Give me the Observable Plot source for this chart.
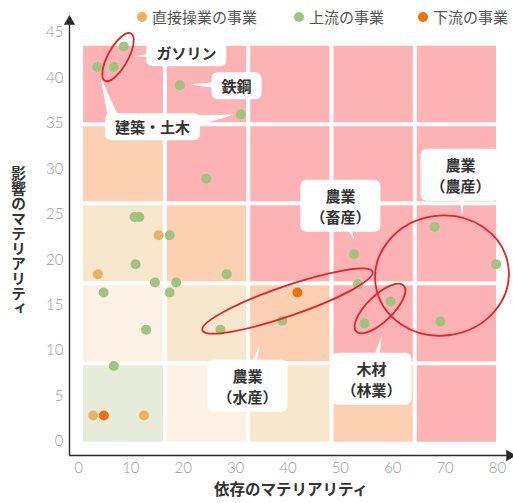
<!DOCTYPE html>
<html><head><meta charset="utf-8">
<script src="https://cdn.jsdelivr.net/npm/d3@7"></script>
<script src="https://cdn.jsdelivr.net/npm/@observablehq/plot@0.6"></script>
<style>
body{margin:0;background:#fff;font-family:"Noto Sans CJK JP","Noto Sans",sans-serif;}
#wrap{position:relative;width:513px;height:503px;overflow:hidden}
.lg{position:absolute;top:7px;display:flex;align-items:center;font-size:15px;color:#555;line-height:20px;white-space:nowrap}
.lg .d{width:10px;height:10px;border-radius:50%;margin-right:5px;display:inline-block}
</style></head><body><div id="wrap"></div>
<script>
// ---- series ----
const seriesNames = ["直接操業の事業", "上流の事業", "下流の事業"];
const seriesColors = ["#e8b461", "#9ec47f", "#f0700c"];

const directX = [15.3, 3.7, 2.8, 12.5];
const directY = [22.7, 18.4, 2.86, 2.86];

const upstreamX = [8.65, 6.75, 3.57, 19.35, 31.0, 24.4, 10.7, 11.6, 17.4, 10.9, 28.3, 14.6, 18.65, 4.8, 17.4, 12.9, 27.1, 6.75, 52.6, 53.4, 38.9, 54.6, 59.6, 68.0, 79.75, 69.1];
const upstreamY = [43.45, 41.2, 41.2, 39.2, 36.0, 28.9, 24.7, 24.7, 22.7, 19.5, 18.4, 17.5, 17.5, 16.4, 16.4, 12.3, 12.3, 8.3, 20.6, 17.3, 13.3, 13.0, 15.4, 23.6, 19.5, 13.2];

const downstreamX = [41.8, 4.84];
const downstreamY = [16.4, 2.86];

// ---- ticks ----
const xTicks = [0, 10, 20, 30, 40, 50, 60, 70, 80];
const yTicks = [0, 5, 10, 15, 20, 25, 30, 35, 40, 45];
const xTitle = "依存のマテリアリティ";
const yTitle = "影響のマテリアリティ";

// ---- background matrix ----
const colEdges = [0.6, 16.6, 32.5, 48.4, 64.3, 80.2];
const rowEdges = [-0.3, 8.55, 17.35, 26.15, 34.85, 43.7];
const levelColors = ["#e6ecd9", "#fcf1e4", "#f7e7cd", "#fdd0b4", "#fdb2b3"];

// ---- callouts ----
const labelTexts = ["ガソリン", "鉄鋼", "建築・土木", "農業\n（畜産）", "農業\n（農産）", "農業\n（水産）", "木材\n（林業）"];
const labelX = [20.6, 30.17, 14.13, 50.0, 72.94, 32.27, 55.94];
const labelY = [42.8, 39.16, 34.65, 25.96, 29.37, 6.16, 6.93];
const tailBaseX = [20.6, 30.17, 6.68, 22.34, 50.0, 72.94, 32.27, 55.94];
const tailBaseY = [42.8, 39.16, 35.53, 35.31, 25.96, 29.37, 6.16, 6.93];
const tailTipX = [10.5, 21.38, 4.2, 29.79, 52.7, 73.3, 34.56, 57.85];
const tailTipY = [42.35, 39.27, 40.15, 35.97, 22.1, 24.86, 10.56, 11.55];

// ---- red circled groups ----
const ringCx = [7.64, 69.5, 57.66, 40.0];
const ringCy = [42.24, 18.2, 14.58, 15.4];
const ringRx = [27, 67, 33, 90];
const ringRy = [10, 60, 13, 15];
const ringAngle = [-61, -8, -44, -19];

// axis extents (data units)
const axisMinX = -1.72, axisMinY = -1.54, axisMaxX = 82.3, axisMaxY = 46.2;

// ---- build tables ----
const points = [
  ...directX.map((x, i) => ({x, y: directY[i], s: 0})),
  ...upstreamX.map((x, i) => ({x, y: upstreamY[i], s: 1})),
  ...downstreamX.map((x, i) => ({x, y: downstreamY[i], s: 2}))
];
const cells = [];
for (let r = 0; r < 5; r++) for (let c = 0; c < 5; c++)
  cells.push({x1: colEdges[c], x2: colEdges[c + 1], y1: rowEdges[r], y2: rowEdges[r + 1], fill: levelColors[Math.min(r + c, 4)]});
const labels = labelTexts.map((t, i) => ({t, x: labelX[i], y: labelY[i]}));

const tickFont = "Lato, 'Open Sans', sans-serif";

const chart = Plot.plot({
  width: 513, height: 503,
  marginLeft: 78, marginRight: 16, marginTop: 32, marginBottom: 62,
  x: {domain: [0, 80], axis: null},
  y: {domain: [0, 45], axis: null},
  style: {background: "transparent", fontFamily: "'Noto Sans CJK JP', sans-serif"},
  marks: [
    Plot.rect(cells, {x1: "x1", x2: "x2", y1: "y1", y2: "y2", fill: d => d.fill, inset: 2}),
    Plot.axisX({ticks: xTicks, tickSize: 0, tickPadding: 21, fontSize: 15, fontWeight: 300, fontFamily: tickFont, color: "#9a9a9a", label: null}),
    Plot.axisY({ticks: yTicks, tickSize: 0, tickPadding: 15, fontSize: 15, fontWeight: 300, fontFamily: tickFont, color: "#9a9a9a", label: null}),
    Plot.ruleY([axisMinY], {x1: axisMinX, x2: axisMaxX, stroke: "#2a2a2a", strokeWidth: 1.4}),
    Plot.ruleX([axisMinX], {y1: axisMinY, y2: axisMaxY, stroke: "#2a2a2a", strokeWidth: 1.4}),
    Plot.dot([{x: axisMaxX, y: axisMinY}], {x: "x", y: "y", symbol: "triangle", rotate: 90, r: 4.2, fill: "#2a2a2a", stroke: null}),
    Plot.dot([{x: axisMinX, y: axisMaxY}], {x: "x", y: "y", symbol: "triangle", r: 4.2, fill: "#2a2a2a", stroke: null}),
    Plot.dot(points, {x: "x", y: "y", r: 5, fill: d => seriesColors[d.s], stroke: null}),
    Plot.text(labels, {x: "x", y: "y", text: "t", fontSize: 15, fontWeight: "bold", fill: "#333", lineHeight: 1.4}),
    Plot.text([xTitle], {frameAnchor: "bottom", dx: 3, dy: 53, fontSize: 15.5, fontWeight: "bold", fill: "#333"}),
    Plot.text([yTitle], {frameAnchor: "left", dx: -60, dy: 4, fontSize: 15, fontWeight: "bold", fill: "#333"})
  ]
});

const wrap = document.getElementById("wrap");
wrap.appendChild(chart);

// legend
const lgLeft = [137, 294, 418];
seriesNames.forEach((n, i) => {
  const div = document.createElement("div");
  div.className = "lg";
  div.style.left = lgLeft[i] + "px";
  div.innerHTML = `<span class="d" style="background:${seriesColors[i]}"></span><span>${n}</span>`;
  wrap.appendChild(div);
});

// callout boxes and tails, positioned through Plot's scales
const sx = chart.scale("x"), sy = chart.scale("y");
const X = v => sx.apply(v), Y = v => sy.apply(v);
const svg = d3.select(chart);
const flat = new Set(labelTexts.map(t => t.replace(/\n/g, "")));
const labelEls = svg.selectAll("text").filter(function() { return flat.has(this.textContent); });
const cgNode = labelEls.node().parentNode;
const tg = d3.select(cgNode).insert("g", ":first-child");
tailTipX.forEach((_, i) => {
  const bx = X(tailBaseX[i]), by = Y(tailBaseY[i]);
  const ax = X(tailTipX[i]), ay = Y(tailTipY[i]);
  const dx = ax - bx, dy = ay - by, L = Math.hypot(dx, dy);
  const w = 5.5, px = -dy / L * w, py = dx / L * w;
  tg.append("path").attr("d", `M${bx + px},${by + py}L${ax},${ay}L${bx - px},${by - py}Z`).attr("fill", "#fff");
});
labelEls.each(function() {
  const b = this.getBBox();
  const lines = this.querySelectorAll("tspan").length || 1;
  const w = b.width + 20, h = lines > 1 ? 52 : 27;
  const cx = b.x + b.width / 2, cy = b.y + b.height / 2;
  const r = document.createElementNS("http://www.w3.org/2000/svg", "rect");
  r.setAttribute("x", cx - w / 2); r.setAttribute("y", cy - h / 2);
  r.setAttribute("width", w); r.setAttribute("height", h);
  r.setAttribute("rx", 6); r.setAttribute("fill", "#fff");
  const tr = this.getAttribute("transform");
  if (tr) r.setAttribute("transform", tr);
  this.parentNode.insertBefore(r, this);
});
// vertical y title, centred on the frame's middle
const yt = svg.selectAll("text").filter(function() { return this.textContent === yTitle; })
  .style("writing-mode", "vertical-rl").style("text-orientation", "upright").attr("text-anchor", "start");
yt.each(function() {
  const svgTop = chart.getBoundingClientRect().top;
  const rc = this.getBoundingClientRect();
  const target = (Y(0) + Y(45)) / 2 + 4;
  const delta = target - (rc.top - svgTop + rc.height / 2);
  const tr = this.getAttribute("transform") || "";
  this.setAttribute("transform", tr + ` translate(0,${delta})`);
});
// red rings
const rg = svg.append("g");
ringCx.forEach((c, i) => {
  rg.append("ellipse")
    .attr("transform", `translate(${X(c)},${Y(ringCy[i])}) rotate(${ringAngle[i]})`)
    .attr("rx", ringRx[i]).attr("ry", ringRy[i])
    .attr("fill", "none").attr("stroke", "#e2252b").attr("stroke-width", 1.8);
});
</script></body></html>
